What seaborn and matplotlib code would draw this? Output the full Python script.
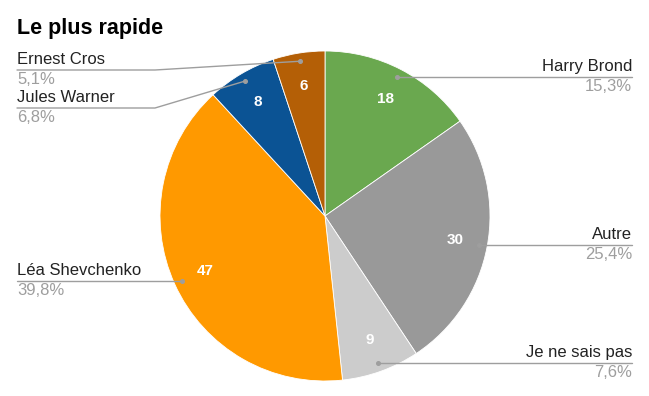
import numpy as np
import matplotlib

matplotlib.use("Agg")
import matplotlib.pyplot as plt
import seaborn as sns

title = "Le plus rapide"
names = ["Harry Brond", "Autre", "Je ne sais pas", "Léa Shevchenko", "Jules Warner", "Ernest Cros"]
counts = [18, 30, 9, 47, 8, 6]
colors = ["#6aa84f", "#999999", "#cccccc", "#ff9900", "#0b5394", "#b45f06"]

sns.set_theme(style="white")
plt.rcParams["font.family"] = ["Liberation Sans", "DejaVu Sans"]

W, H = 649, 396
CX, CY, R = 325, H - 216, 165

fig = plt.figure(figsize=(W / 100, H / 100), dpi=100)
ax = fig.add_axes([0, 0, 1, 1])

wedges, _ = ax.pie(
    counts,
    colors=colors,
    startangle=90,
    counterclock=False,
    center=(CX, CY),
    radius=R,
    wedgeprops={"edgecolor": "white", "linewidth": 0.6},
)
ax.set_xlim(0, W)
ax.set_ylim(0, H)
ax.set_aspect("auto")
ax.axis("off")

total = sum(counts)
line_col = "#9e9e9e"
# left-side labels that get pushed away from their slice (label line y, in px from top)
left_line_y = {"Jules Warner": 108, "Ernest Cros": 70}

for w, name, n in zip(wedges, names, counts):
    mid = np.deg2rad((w.theta1 + w.theta2) / 2)
    dx, dy = np.cos(mid), np.sin(mid)
    # value inside slice
    ax.text(CX + 0.8 * R * dx, CY + 0.8 * R * dy, str(n), color="white",
            fontsize=11, fontweight="bold", ha="center", va="center")
    # leader dot
    px, py = CX + 0.95 * R * dx, CY + 0.95 * R * dy
    ax.plot(px, py, "o", ms=2.6, color=line_col, zorder=5)
    pct = f"{n / total * 100:.1f}%".replace(".", ",")
    if dx > 0:
        x_end = 632
        ly = py
        ax.plot([px, x_end], [ly, ly], color=line_col, lw=1, zorder=4)
        ha, tx = "right", x_end
    else:
        tx = 17
        ly = H - left_line_y.get(name, H - py)
        if name in left_line_y:
            ax.plot([tx, 155, px], [ly, ly, py], color=line_col, lw=1, zorder=4)
        else:
            ax.plot([tx, px], [ly, ly], color=line_col, lw=1, zorder=4)
        ha = "left"
    ax.text(tx, ly + 3, name, color="#222222", fontsize=12, ha=ha, va="bottom")
    ax.text(tx, ly - 2, pct, color="#9e9e9e", fontsize=12, ha=ha, va="top")

ax.text(17, H - 34, title, fontsize=15.5, fontweight="bold", color="#000000",
        ha="left", va="baseline")

fig.savefig("out.png", dpi=100)
plt.close(fig)
